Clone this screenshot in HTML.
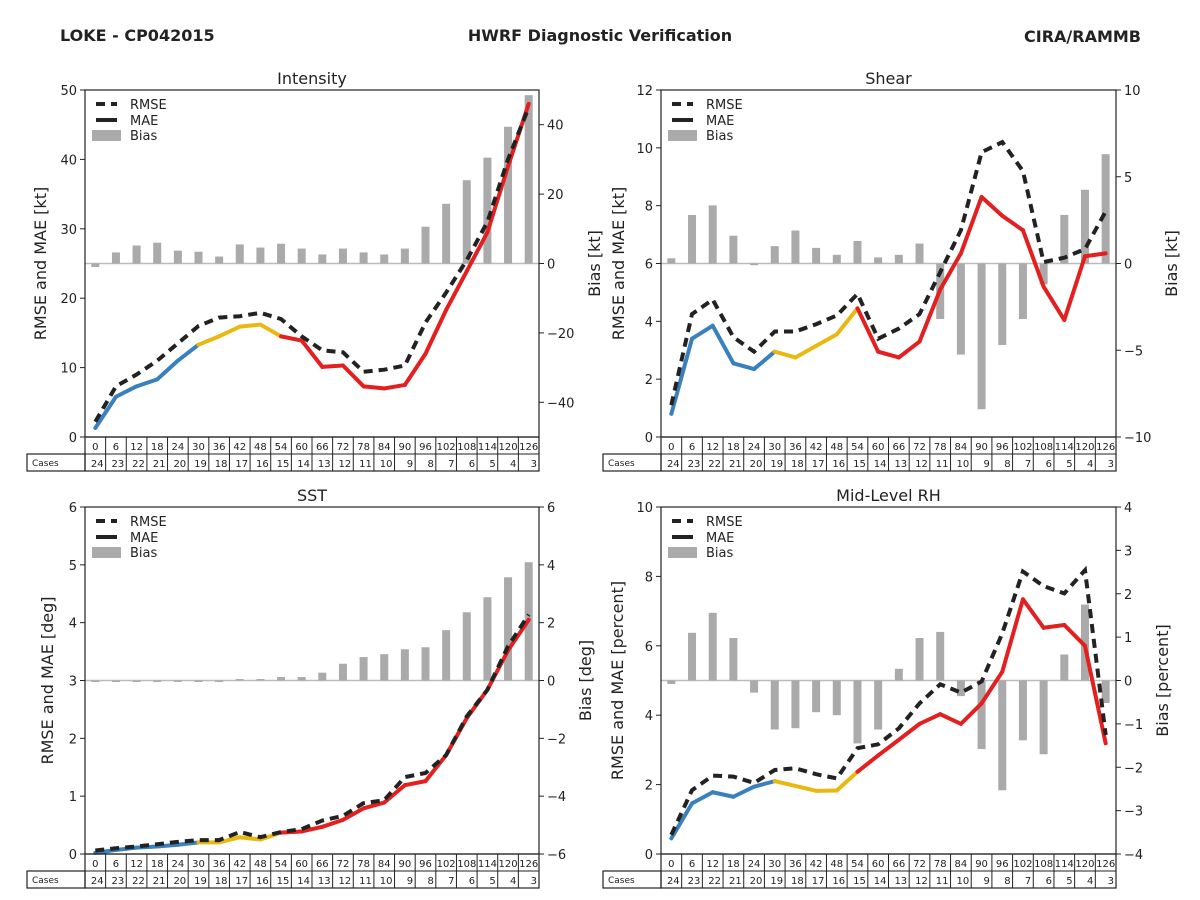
<!DOCTYPE html>
<html><head><meta charset="utf-8"><style>
body{margin:0;background:#fff;}
svg{display:block;font-family:"DejaVu Sans","Liberation Sans",sans-serif;}
</style></head><body>
<svg id="chart" width="1200" height="900" viewBox="0 0 1200 900">
<text x="60" y="41" font-size="16" font-weight="bold" fill="#222">LOKE - CP042015</text>
<text x="600" y="41" font-size="16" font-weight="bold" fill="#222" text-anchor="middle">HWRF Diagnostic Verification</text>
<text x="1141" y="42" font-size="16" font-weight="bold" fill="#222" text-anchor="end">CIRA/RAMMB</text>
</svg>
<script>
const leadTimes=[0,6,12,18,24,30,36,42,48,54,60,66,72,78,84,90,96,102,108,114,120,126];
const cases=[24,23,22,21,20,19,18,17,16,15,14,13,12,11,10,9,8,7,6,5,4,3];
const intRmse=[2.2,7.3,9.0,11,13.5,16,17.2,17.4,17.9,17.0,14.5,12.5,12.2,9.4,9.7,10.3,16.5,20.8,25.5,31,40,47.5];
const intMae=[1.3,5.8,7.3,8.3,11,13.3,14.5,15.9,16.2,14.5,13.9,10.1,10.3,7.3,7.0,7.5,12,18.3,23.9,29.5,39,48];
const intBias=[-1,3.2,5.2,6,3.7,3.4,2,5.5,4.6,5.7,4.3,2.6,4.3,3.2,2.6,4.3,10.6,17.2,24,30.5,39.4,48.5];
const shrRmse=[1.1,4.25,4.75,3.45,2.95,3.65,3.65,3.9,4.2,4.95,3.4,3.75,4.25,5.7,7.15,9.85,10.2,9.2,6.05,6.2,6.5,7.8];
const shrMae=[0.8,3.4,3.85,2.55,2.35,2.95,2.75,3.15,3.55,4.45,2.95,2.75,3.3,5.1,6.35,8.3,7.65,7.15,5.2,4.05,6.25,6.35];
const shrBias=[0.3,2.8,3.35,1.6,-0.1,1.0,1.9,0.9,0.5,1.3,0.35,0.5,1.15,-3.2,-5.25,-8.4,-4.7,-3.2,-1.2,2.8,4.25,6.3];
const sstRmse=[0.06,0.1,0.13,0.17,0.21,0.24,0.24,0.38,0.29,0.38,0.43,0.58,0.66,0.88,0.93,1.33,1.4,1.71,2.38,2.84,3.59,4.14];
const sstMae=[0.02,0.07,0.11,0.13,0.16,0.2,0.2,0.29,0.25,0.37,0.39,0.47,0.59,0.79,0.89,1.19,1.26,1.71,2.35,2.84,3.52,4.05];
const sstBias=[0,0,0,-0.05,-0.05,0,0,0.05,0.05,0.12,0.12,0.27,0.58,0.81,0.91,1.08,1.15,1.74,2.36,2.88,3.57,4.09];
const rhRmse=[0.55,1.84,2.26,2.23,2.05,2.42,2.47,2.3,2.18,3.05,3.16,3.62,4.34,4.89,4.65,4.97,6.36,8.14,7.72,7.51,8.18,3.43];
const rhMae=[0.45,1.46,1.78,1.65,1.94,2.1,1.96,1.82,1.83,2.37,2.84,3.29,3.75,4.03,3.75,4.34,5.25,7.34,6.52,6.6,6.0,3.19];
const rhBias=[-0.08,1.1,1.56,0.98,-0.28,-1.13,-1.1,-0.73,-0.8,-1.45,-1.13,0.27,0.98,1.12,-0.36,-1.58,-2.53,-1.38,-1.7,0.6,1.75,-0.52];
const intLeftTicks=[0,10,20,30,40,50], intRightTicks=[-40,-20,0,20,40];
const shrLeftTicks=[0,2,4,6,8,10,12], shrRightTicks=[-10,-5,0,5,10];
const sstLeftTicks=[0,1,2,3,4,5,6], sstRightTicks=[-6,-4,-2,0,2,4,6];
const rhLeftTicks=[0,2,4,6,8,10], rhRightTicks=[-4,-3,-2,-1,0,1,2,3,4];

const NS='http://www.w3.org/2000/svg';
const svg=document.getElementById('chart');
function mk(tag,attrs,parent){const e=document.createElementNS(NS,tag);for(const k in attrs)e.setAttribute(k,attrs[k]);(parent||svg).appendChild(e);return e;}

function panel(p){
  const g=mk('g',{});
  
  
  const L=p.x0,R=p.x1,T=p.y0,B=p.y1,W=(R-L)/leadTimes.length;
  const xs=i=>L+(i+0.5)*W;
  const yl=v=>B-(v-p.lmin)/(p.lmax-p.lmin)*(B-T);
  const yr=v=>B-(v-p.rmin)/(p.rmax-p.rmin)*(B-T);
  const t=mk('text',{x:(L+R)/2,y:T-6,'font-size':16,fill:'#222','text-anchor':'middle'},g);t.textContent=p.title;
  
  
  const z=mk('line',{x1:L,x2:R,y1:yr(0),y2:yr(0),stroke:'#bbb','stroke-width':1.5},g);
  
  
  p.bias.forEach((v,i)=>{
    const y0=yr(0),y1=yr(v);
    const b=mk('rect',{x:xs(i)-4,y:Math.min(y0,y1),width:8,height:Math.max(Math.abs(y1-y0),1.5),fill:'#aaa'},g);
    
    
  });
  const cols=i=>i<5?'#3a80bd':(i<9?'#e9b912':'#e31f1f');
  for(let i=0;i<p.mae.length-1;i++){
    const s=mk('line',{x1:xs(i),y1:yl(p.mae[i]),x2:xs(i+1),y2:yl(p.mae[i+1]),stroke:cols(i),'stroke-width':4,'stroke-linecap':'round'},g);
    
    
  }
  const pts=p.rmse.map((v,i)=>xs(i).toFixed(1)+','+yl(v).toFixed(1)).join(' ');
  const r=mk('polyline',{points:pts,fill:'none',stroke:'#222','stroke-width':4,'stroke-dasharray':'9,6'},g);
  
  
  const f=mk('rect',{x:L,y:T,width:R-L,height:B-T,fill:'none',stroke:'#222','stroke-width':1.2},g);
  
  
  p.lt.forEach(v=>{
    mk('line',{x1:L-5,x2:L,y1:yl(v),y2:yl(v),stroke:'#222'},g);
    const tx=mk('text',{x:L-8,y:yl(v)+5,'font-size':13,fill:'#222','text-anchor':'end'},g);tx.textContent=v;
    
    
  });
  p.rt.forEach(v=>{
    mk('line',{x1:R,x2:R+5,y1:yr(v),y2:yr(v),stroke:'#222'},g);
    const tx=mk('text',{x:R+8,y:yr(v)+5,'font-size':13,fill:'#222'},g);tx.textContent=v<0?'\u2212'+(-v):v;
    
    
  });
  const la=mk('text',{x:0,y:0,'font-size':16,fill:'#222','text-anchor':'middle',transform:`translate(${p.llx},${(T+B)/2}) rotate(-90)`},g);la.textContent=p.ll;
  
  
  const ra=mk('text',{x:0,y:0,'font-size':16,fill:'#222','text-anchor':'middle',transform:`translate(${p.rlx},${(T+B)/2}) rotate(-90)`},g);ra.textContent=p.rl;
  
  
  const lg=mk('g',{},g);
  
  
  mk('line',{x1:L+11,x2:L+32,y1:T+14,y2:T+14,stroke:'#222','stroke-width':4,'stroke-dasharray':'9,6'},lg);
  mk('line',{x1:L+11,x2:L+32,y1:T+30,y2:T+30,stroke:'#222','stroke-width':4},lg);
  mk('rect',{x:L+7,y:T+40,width:29,height:11,fill:'#aaa'},lg);
  [['RMSE',19],['MAE',35],['Bias',50]].forEach(a=>{const tt=mk('text',{x:L+45,y:T+a[1],'font-size':13,fill:'#222'},lg);tt.textContent=a[0];});
  const tb=mk('g',{},g);
  
  
  const r1=B+17,r2=B+34;
  mk('rect',{x:L,y:B,width:R-L,height:34,fill:'none',stroke:'#222','stroke-width':1.2},tb);
  mk('rect',{x:L-58,y:r1,width:58,height:17,fill:'none',stroke:'#222','stroke-width':1.2},tb);
  mk('line',{x1:L,x2:R,y1:r1,y2:r1,stroke:'#222'},tb);
  const ct=mk('text',{x:L-53,y:r1+12,'font-size':9,fill:'#222'},tb);ct.textContent='Cases';
  leadTimes.forEach((lt,i)=>{
    if(i>0)mk('line',{x1:L+i*W,x2:L+i*W,y1:B,y2:r2,stroke:'#222'},tb);
    const a=mk('text',{x:xs(i),y:B+13,'font-size':10,fill:'#222','text-anchor':'middle'},tb);a.textContent=lt;
    
    
    const c=mk('text',{x:L+(i+1)*W-2,y:r1+13,'font-size':10,fill:'#222','text-anchor':'end'},tb);c.textContent=cases[i];
    
    
  });
}
panel({id:'intensity',title:'Intensity',x0:85,x1:539,y0:90,y1:437,lmin:0,lmax:50,rmin:-50,rmax:50,lt:intLeftTicks,rt:intRightTicks,rmse:intRmse,mae:intMae,bias:intBias,ll:'RMSE and MAE [kt]',rl:'Bias [kt]',llx:46,rlx:600});
panel({id:'shear',title:'Shear',x0:661,x1:1116,y0:90,y1:437,lmin:0,lmax:12,rmin:-10,rmax:10,lt:shrLeftTicks,rt:shrRightTicks,rmse:shrRmse,mae:shrMae,bias:shrBias,ll:'RMSE and MAE [kt]',rl:'Bias [kt]',llx:624,rlx:1177});
panel({id:'sst',title:'SST',x0:85,x1:539,y0:507,y1:854,lmin:0,lmax:6,rmin:-6,rmax:6,lt:sstLeftTicks,rt:sstRightTicks,rmse:sstRmse,mae:sstMae,bias:sstBias,ll:'RMSE and MAE [deg]',rl:'Bias [deg]',llx:53,rlx:591});
panel({id:'mid-level-rh',title:'Mid-Level RH',x0:661,x1:1116,y0:507,y1:854,lmin:0,lmax:10,rmin:-4,rmax:4,lt:rhLeftTicks,rt:rhRightTicks,rmse:rhRmse,mae:rhMae,bias:rhBias,ll:'RMSE and MAE [percent]',rl:'Bias [percent]',llx:623,rlx:1168});
</script>
</body></html>
